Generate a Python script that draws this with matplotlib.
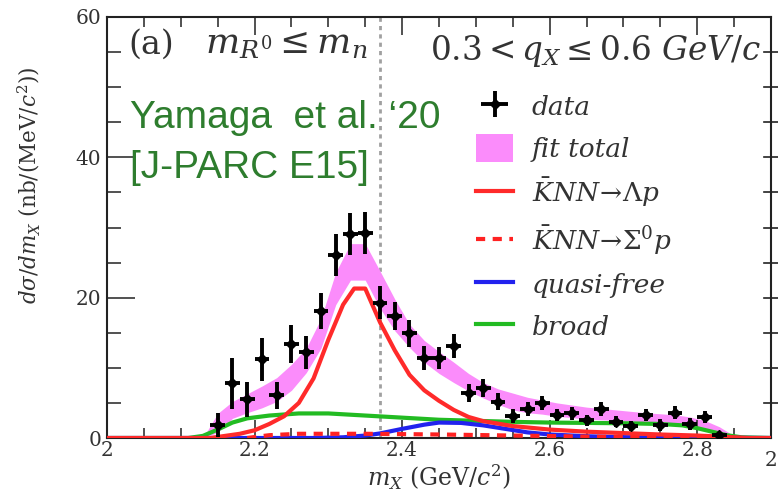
import matplotlib
matplotlib.use("Agg")
import matplotlib.pyplot as plt
from matplotlib.patches import Patch
from matplotlib.lines import Line2D
import numpy as np

plt.rcParams['font.family'] = ['DejaVu Serif']
plt.rcParams['mathtext.fontset'] = 'dejavuserif'

# ---- data points ----
data_x = [2.15, 2.17, 2.19, 2.21, 2.23, 2.25, 2.27, 2.29, 2.31, 2.33, 2.35, 2.37,
          2.39, 2.41, 2.43, 2.45, 2.47, 2.49, 2.51, 2.53, 2.55, 2.57, 2.59, 2.61,
          2.63, 2.65, 2.67, 2.69, 2.71, 2.73, 2.75, 2.77, 2.79, 2.81, 2.83]
data_y = [1.8, 7.8, 5.5, 11.2, 6.1, 13.4, 12.2, 18.1, 26.1, 29.1, 29.2, 19.3,
          17.4, 14.9, 11.4, 11.4, 13.1, 6.4, 7.1, 5.2, 3.1, 4.2, 5.0, 3.3,
          3.5, 2.5, 4.2, 2.3, 1.7, 3.3, 1.85, 3.6, 2.0, 3.0, 0.4]
data_err = [1.7, 3.6, 2.5, 3.1, 1.9, 2.7, 2.3, 2.6, 3.0, 3.0, 3.0, 2.3,
            2.0, 1.9, 1.7, 1.6, 1.7, 1.3, 1.3, 1.2, 1.0, 1.0, 1.0, 0.9,
            0.9, 0.8, 1.0, 0.8, 0.7, 0.9, 0.8, 0.9, 0.8, 0.9, 0.3]
bin_half = 0.01

# ---- fit total band ----
fit_x = [2.13, 2.15, 2.17, 2.19, 2.21, 2.23, 2.25, 2.27, 2.29, 2.31, 2.33, 2.35,
         2.37, 2.39, 2.41, 2.43, 2.45, 2.47, 2.49, 2.51, 2.53, 2.55, 2.57, 2.59,
         2.61, 2.63, 2.65, 2.67, 2.69, 2.71, 2.73, 2.75, 2.77, 2.79, 2.81, 2.83, 2.85]
fit_hi = [0.0, 3.5, 5.2, 6.3, 7.4, 8.6, 10.5, 12.8, 17.0, 23.6, 27.7, 27.7,
          23.8, 19.8, 16.2, 13.9, 12.3, 10.8, 9.2, 7.9, 7.0, 6.4, 5.8, 5.4,
          5.0, 4.7, 4.4, 4.2, 4.0, 3.8, 3.6, 3.45, 3.3, 3.0, 2.5, 1.6, 0.3]
fit_lo = [0.0, 0.8, 2.8, 3.6, 4.3, 5.2, 6.8, 9.3, 12.8, 19.0, 22.5, 22.5,
          18.5, 15.3, 12.9, 10.8, 9.2, 7.9, 6.7, 5.7, 4.8, 4.0, 3.6, 3.4,
          3.1, 2.9, 2.7, 2.6, 2.5, 2.4, 2.3, 2.2, 2.1, 1.8, 1.3, 0.6, 0.0]

# ---- KNN -> Lambda p ----
lp_x = [2.0, 2.14, 2.16, 2.18, 2.20, 2.22, 2.24, 2.26, 2.28, 2.30, 2.32, 2.335, 2.35,
        2.37, 2.39, 2.41, 2.43, 2.45, 2.47, 2.49, 2.51, 2.55, 2.60, 2.65, 2.70,
        2.75, 2.80, 2.85, 2.87, 2.9]
lp_y = [0.0, 0.0, 0.3, 0.6, 1.1, 2.0, 3.1, 5.0, 8.5, 14.0, 19.0, 21.3, 21.3,
        16.5, 12.5, 9.0, 6.8, 5.3, 4.0, 3.0, 2.4, 1.7, 1.2, 0.9, 0.7,
        0.5, 0.35, 0.1, 0.0, 0.0]

# ---- KNN -> Sigma0 p ----
sp_x = [2.19, 2.22, 2.26, 2.35, 2.45, 2.55, 2.65, 2.75, 2.85]
sp_y = [0.0, 0.4, 0.6, 0.6, 0.5, 0.35, 0.2, 0.1, 0.0]

# ---- quasi-free ----
qf_x = [2.0, 2.28, 2.32, 2.35, 2.37, 2.40, 2.43, 2.45, 2.48, 2.51, 2.54, 2.57,
        2.60, 2.65, 2.70, 2.80, 2.9]
qf_y = [0.0, 0.0, 0.1, 0.35, 0.65, 1.3, 1.9, 2.2, 2.15, 1.8, 1.3, 0.8,
        0.5, 0.25, 0.12, 0.05, 0.0]

# ---- broad ----
br_x = [2.0, 2.11, 2.13, 2.15, 2.17, 2.19, 2.22, 2.26, 2.30, 2.35, 2.40, 2.45,
        2.50, 2.55, 2.60, 2.65, 2.70, 2.75, 2.78, 2.80, 2.82, 2.84, 2.86, 2.9]
br_y = [0.0, 0.0, 0.3, 1.2, 2.2, 2.8, 3.2, 3.5, 3.5, 3.2, 2.9, 2.6,
        2.45, 2.3, 2.2, 2.15, 2.1, 2.0, 1.8, 1.4, 0.9, 0.4, 0.1, 0.0]

threshold = 2.37
x_ticks = [2.0, 2.2, 2.4, 2.6, 2.8]
x_ticklabels = ['2', '2.2', '2.4', '2.6', '2.8']
y_ticks = [0, 20, 40, 60]

TXT = '#333333'
C_FIT = '#fb8cfb'
C_LP = '#ff2a2a'
C_SP = '#ff2222'
C_QF = '#2222ee'
C_BR = '#22bb22'
LW = 3.0

fig = plt.figure(figsize=(7.78, 4.93), dpi=100)
ax = fig.add_axes([107/778, 1 - 438/493, (771-107)/778, (438-17)/493])

ax.fill_between(fit_x, fit_lo, fit_hi, color=C_FIT, lw=0, zorder=1)
ax.plot(br_x, br_y, color=C_BR, lw=LW, zorder=2)
ax.plot(qf_x, qf_y, color=C_QF, lw=LW, zorder=3)
ax.plot(sp_x, sp_y, color=C_SP, lw=LW, ls=(0, (2.2, 1.8)), zorder=3)
ax.plot(lp_x, lp_y, color=C_LP, lw=LW, zorder=3)
ax.axvline(threshold, color='#a0a0a0', lw=2, ls=(0, (1.5, 1.5)), zorder=0)
ax.errorbar(data_x, data_y, yerr=data_err, xerr=bin_half, fmt='D', ms=5.5,
            color='black', elinewidth=2.8, capsize=0, zorder=5)

ax.set_xlim(2.0, 2.9)
ax.set_ylim(0, 60)
ax.set_xticks(x_ticks)
ax.set_xticklabels(x_ticklabels)
ax.set_yticks(y_ticks)
ax.set_xticks(np.arange(2.0, 2.9, 0.05), minor=True)
ax.set_yticks(np.arange(0, 61, 5), minor=True)
ax.tick_params(which='both', direction='in', top=True, right=False,
               labelsize=14.5, colors=TXT, width=1.2)
ax.tick_params(which='major', length=13, pad=4)
ax.tick_params(axis='x', which='major', pad=2.5)
ax.tick_params(which='minor', length=7)
ax.tick_params(axis='y', which='major', length=20)
ax.tick_params(axis='y', which='minor', length=10)
for s in ax.spines.values():
    s.set_linewidth(1.5)
    s.set_color('#222222')

# ticks belonging to the neighbouring panel on the right spine
for yt in np.arange(5, 60, 5):
    ax.plot([0.99, 1.01], [yt, yt], transform=ax.get_yaxis_transform(),
            color='#222222', lw=1.2, clip_on=False)
ax.text(1.0, -0.032, '2', transform=ax.transAxes, ha='center', va='top',
        fontsize=14.5, color=TXT)

ax.set_xlabel(r'$m_{X}$ (GeV/$c^{2}$)', fontsize=17, color=TXT)
ax.xaxis.set_label_coords(0.5, -0.058)
ax.set_ylabel(r'$d\sigma/dm_{X}$ (nb/(MeV/$c^{2}$))', fontsize=15.5, color=TXT)
ax.yaxis.set_label_coords(-0.098, 0.6)

ax.text(0.032, 0.935, '(a)', transform=ax.transAxes, fontsize=24, color=TXT,
        ha='left', va='center')
ax.text(0.148, 0.935, r'$m_{R^{0}}\leq m_{n}$', transform=ax.transAxes, fontsize=26,
        color=TXT, ha='left', va='center')
ax.text(0.985, 0.92, r'$\mathit{0.3} < q_{X} \leq \mathit{0.6}\ \mathit{GeV/c}$',
        transform=ax.transAxes, fontsize=23.5, color=TXT, ha='right', va='center')

fig.text(130/778, 1 - 128/493, 'Yamaga  et al. \u201820', fontsize=28,
         family='Liberation Sans', color='#2e7d2e', ha='left', va='baseline')
fig.text(130/778, 1 - 178/493, '[J-PARC E15]', fontsize=28,
         family='Liberation Sans', color='#2e7d2e', ha='left', va='baseline')

handles = [
    ax.errorbar([], [], yerr=[], xerr=[], fmt='D', ms=5.5, color='black',
                elinewidth=2.8, capsize=0),
    Patch(facecolor=C_FIT, edgecolor='none'),
    Line2D([], [], color=C_LP, lw=LW),
    Line2D([], [], color=C_SP, lw=LW, ls=(0, (2.2, 1.8))),
    Line2D([], [], color=C_QF, lw=LW),
    Line2D([], [], color=C_BR, lw=LW),
]
labels = ['data', 'fit total', r'$\bar{K}NN\!\rightarrow\!\Lambda p$',
          r'$\bar{K}NN\!\rightarrow\!\Sigma^{0} p$', 'quasi-free', 'broad']
leg = ax.legend(handles, labels, loc='upper left', bbox_to_anchor=(0.556, 0.82),
                frameon=False, prop={'size': 19, 'style': 'italic'},
                handlelength=1.4, handleheight=1.2, handletextpad=0.7,
                labelspacing=0.54, borderpad=0, borderaxespad=0)
for t in leg.get_texts():
    t.set_color(TXT)

fig.savefig('out.png', dpi=100)
